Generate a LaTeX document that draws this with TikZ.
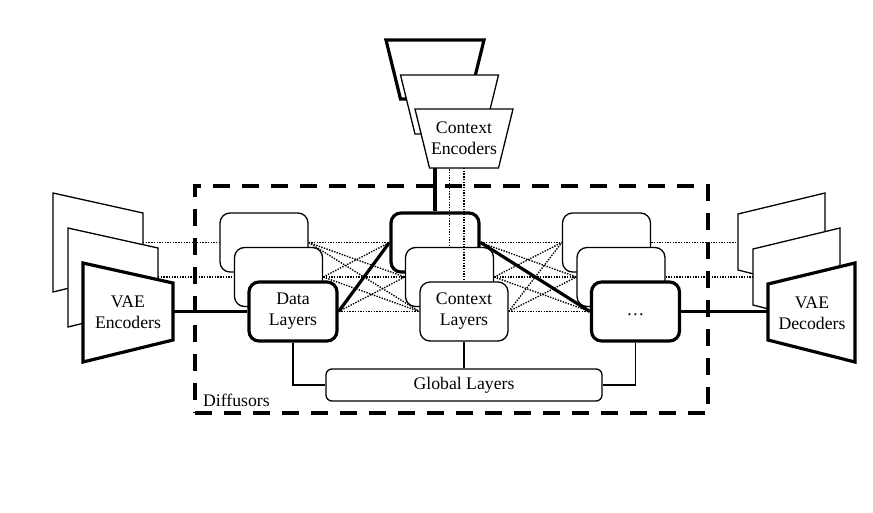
\documentclass[tikz,border=0pt]{standalone}
\usepackage{fontspec}
\setmainfont{Liberation Serif}
\newfontfamily\tnr{Liberation Serif}
\pgfdeclarelayer{bg}
\pgfsetlayers{bg,main}
\begin{document}
\begin{tikzpicture}[x=1pt,y=-1pt,
  font=\tnr\fontsize{17.7}{21}\selectfont,
  thinline/.style={line width=1.3pt},
  thickline/.style={line width=3.2pt},
  dotline/.style={line width=1.35pt, dash pattern=on 1.4pt off 1.3pt},
  layer/.style={draw, fill=white, rounded corners=10pt, minimum width=88pt,
    minimum height=59pt, inner sep=0pt, align=center, thinline},
  mainlayer/.style={layer, thickline},
  plane/.style={draw, fill=white, thinline, line join=miter},
  mainplane/.style={plane, thickline},
  frame/.style={draw, line width=3.5pt, dash pattern=on 17pt off 12pt,
    minimum width=513pt, minimum height=227pt, inner sep=0pt},
]
\useasboundingbox (0,0) rectangle (873,512);

% Diffusors frame
\node[frame] (diff) at (451.5,299.5) {};
\node[anchor=base west, inner sep=0pt] (difflbl) at (203,406) {Diffusors};

% VAE encoder planes
\draw[plane, shift={(53,193)}] (0,0) -- (90,20) -- (90,77) -- (0,99) -- cycle;
\draw[plane, shift={(68,228)}] (0,0) -- (90,20) -- (90,77) -- (0,99) -- cycle;
\draw[mainplane, shift={(83,263)}] (0,0) -- (90,20) -- (90,77) -- (0,99) -- cycle;
\node[align=center, inner sep=0pt] (vaeenc) at (128,312) {VAE\\Encoders};
\coordinate (encBk) at (143,242.5);
\coordinate (encMd) at (158,277);
\coordinate (encFr) at (173,311.5);

% VAE decoder planes
\draw[plane, shift={(738,193)}] (0,21) -- (87,0) -- (87,99) -- (0,77) -- cycle;
\draw[plane, shift={(753,228)}] (0,21) -- (87,0) -- (87,99) -- (0,77) -- cycle;
\draw[mainplane, shift={(768,263)}] (0,21) -- (87,0) -- (87,99) -- (0,77) -- cycle;
\node[align=center, inner sep=0pt] (vaedec) at (812,313) {VAE\\Decoders};
\coordinate (decBk) at (738,242.5);
\coordinate (decMd) at (753,277);
\coordinate (decFr) at (768,311.5);

% layer stacks
\node[layer] (lb) at (264,242.5) {};
\node[layer] (lm) at (278.5,277) {};
\node[mainlayer] (lf) at (293,311.5) {Data\\Layers};
\node[mainlayer] (cb) at (435,242.5) {};
\node[layer] (cm) at (449.5,277) {};
\node[layer] (cf) at (464,311.5) {Context\\Layers};
\node[layer] (rb) at (606.5,242.5) {};
\node[layer] (rm) at (621,277) {};
\node[mainlayer] (rf) at (635.5,311.5) {\strut …};

% global layers
\node[draw, fill=white, thinline, rounded corners=6pt, minimum width=276pt,
  minimum height=32pt, inner sep=0pt] (gl) at (464,385) {Global Layers};

% dotted connections (behind boxes)
\begin{pgfonlayer}{bg}
  \foreach \a in {lb,lm,lf}
    \foreach \b in {cb,cm,cf}
      \draw[dotline] (\a.east) -- (\b.west);
  \foreach \a in {cb,cm,cf}
    \foreach \b in {rb,rm,rf}
      \draw[dotline] (\a.east) -- (\b.west);
  \draw[dotline] (encBk) -- (lb.west);
  \draw[dotline] (encMd) -- (lm.west);
  \draw[dotline] (rb.east) -- (decBk);
  \draw[dotline] (rm.east) -- (decMd);
\end{pgfonlayer}

% thick connections
\draw[thickline] (encFr) -- (lf.west);
\draw[thickline] (rf.east) -- (decFr);
\draw[thickline] (lf.east) -- (cb.west);
\draw[thickline] (cb.east) -- (rf.west);

% global connections
\draw[thinline] (lf.south) |- (gl.west);
\draw[thinline] (cf.south) -- (gl.north);
\draw[thinline] (rf.south) |- (gl.east);

% context encoder connections
\coordinate (ctxBk) at (435,99);
\coordinate (ctxMd) at (449.5,134);
\coordinate (ctxFr) at (464,168);
\draw[thickline] (ctxBk) -- (ctxBk |- cb.north);
\draw[dotline] (ctxMd) -- (ctxMd |- cm.north);
\draw[dotline] (ctxFr) -- (ctxFr |- cf.north);

% context encoders
\draw[mainplane, shift={(386,40)}] (0,0) -- (98,0) -- (83.5,59) -- (14.5,59) -- cycle;
\draw[plane, shift={(400.5,75)}] (0,0) -- (98,0) -- (83.5,59) -- (14.5,59) -- cycle;
\draw[plane, shift={(415,109)}] (0,0) -- (98,0) -- (83.5,59) -- (14.5,59) -- cycle;
\node[align=center, inner sep=0pt] (ctxenc) at (464,138) {Context\\Encoders};
\end{tikzpicture}
\end{document}
